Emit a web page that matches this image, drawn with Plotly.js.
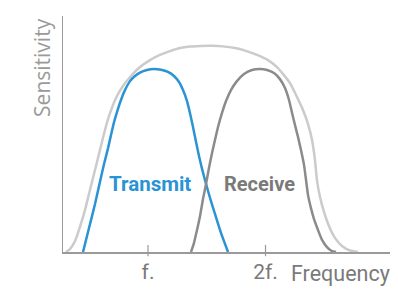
<!DOCTYPE html>
<html><head><meta charset="utf-8">
<script src="https://cdn.plot.ly/plotly-3.0.1.min.js"></script>
<style>html,body{margin:0;padding:0;background:#fff}#chart{width:398px;height:293px}</style>
</head><body><div id="chart"></div>
<script>
// Frequency in units of f, sensitivity relative to transmit peak
const tickVals = [1, 2];
const tickText = ["f.", "2f."];

const envX = [0.302,0.336,0.379,0.421,0.464,0.506,0.549,0.591,0.634,0.677,0.728,0.787,0.855,0.932,1.017,1.102,1.187,1.272,1.357,1.443,1.545,1.638,1.740,1.826,1.928,2.021,2.098,2.157,2.209,2.268,2.319,2.362,2.396,2.421,2.438,2.464,2.498,2.540,2.591,2.651,2.719,2.787];
const envY = [0,0.016,0.060,0.137,0.230,0.339,0.448,0.557,0.667,0.760,0.842,0.907,0.962,1.011,1.049,1.077,1.098,1.115,1.123,1.126,1.127,1.124,1.115,1.101,1.077,1.049,1.011,0.967,0.923,0.847,0.776,0.699,0.612,0.503,0.393,0.301,0.219,0.142,0.077,0.033,0.008,0];

const txX = [0.447,0.498,0.549,0.591,0.626,0.660,0.685,0.711,0.736,0.770,0.804,0.847,0.889,0.932,0.991,1.051,1.111,1.170,1.221,1.264,1.298,1.332,1.357,1.383,1.409,1.434,1.460,1.494,1.528,1.570,1.621,1.681];
const txY = [0,0.131,0.262,0.383,0.481,0.568,0.639,0.710,0.765,0.831,0.885,0.934,0.962,0.981,0.995,1.0,0.996,0.984,0.962,0.929,0.885,0.825,0.760,0.683,0.601,0.525,0.454,0.372,0.295,0.208,0.104,0];

const rxX = [1.366,1.391,1.417,1.443,1.468,1.494,1.519,1.545,1.570,1.596,1.630,1.664,1.706,1.757,1.817,1.885,1.953,2.013,2.072,2.123,2.166,2.200,2.226,2.251,2.277,2.302,2.328,2.345,2.362,2.387,2.413,2.447,2.481,2.523,2.566,2.600];
const rxY = [0,0.049,0.120,0.197,0.290,0.372,0.459,0.541,0.612,0.683,0.760,0.825,0.885,0.934,0.973,0.995,1.0,0.995,0.978,0.945,0.896,0.831,0.760,0.694,0.628,0.557,0.475,0.393,0.311,0.240,0.180,0.120,0.066,0.027,0.005,0];

const labels = ["Transmit", "Receive"];
const labelX = [1.021, 1.945];
const labelY = [0.374, 0.374];

const FONT = "Roboto, sans-serif";
const lineStyle = (c) => ({color: c, width: 2.5, shape: "spline", smoothing: 0.5});
const traces = [
  {x: envX, y: envY, mode: "lines", line: lineStyle("#cbcbcb"), hoverinfo: "skip"},
  {x: txX, y: txY, mode: "lines", line: lineStyle("#2a93d3"), hoverinfo: "skip"},
  {x: rxX, y: rxY, mode: "lines", line: lineStyle("#8b8b8d"), hoverinfo: "skip"}
];

const shapes = tickVals.map(v => ({type: "line", xref: "x", yref: "paper", x0: v, x1: v, y0: -0.018, y1: 0.03, line: {color: "#999", width: 1.2}}));

const annotations = [
  {text: labels[0], x: labelX[0], y: labelY[0], xref: "x", yref: "y", showarrow: false, xanchor: "center", yanchor: "middle", font: {family: FONT, size: 20.5, color: "#2a93d3", weight: "bold"}},
  {text: labels[1], x: labelX[1], y: labelY[1], xref: "x", yref: "y", showarrow: false, xanchor: "center", yanchor: "middle", font: {family: FONT, size: 20, color: "#7a7a7a", weight: "bold"}},
  {text: "Frequency", x: 1, y: -0.030, xref: "paper", yref: "paper", showarrow: false, xanchor: "right", yanchor: "top", xshift: 2, font: {family: FONT, size: 21.5, color: "#7a7a7a"}},
  {text: "Sensitivity", x: -0.066, y: 1.0, xref: "paper", yref: "paper", showarrow: false, textangle: -90, xanchor: "center", yanchor: "top", font: {family: "'Open Sans', sans-serif", size: 21, color: "#9a9a9a"}}
];

const layout = {
  width: 398, height: 293,
  margin: {l: 63, r: 8, t: 16, b: 41, pad: 0},
  paper_bgcolor: "#fff", plot_bgcolor: "#fff",
  showlegend: false,
  xaxis: {range: [0.2766, 3.0596], showgrid: false, zeroline: false, showline: true, linecolor: "#9a9a9a", linewidth: 1.5,
          tickmode: "array", tickvals: tickVals, ticktext: tickText, ticks: "", ticklabelstandoff: 0,
          tickfont: {family: FONT, size: 21, color: "#7a7a7a"}, fixedrange: true},
  yaxis: {range: [0, 1.29], showgrid: false, zeroline: false, showline: true, linecolor: "#9a9a9a", linewidth: 1.5,
          showticklabels: false, ticks: "", fixedrange: true},
  shapes: shapes,
  annotations: annotations
};
Plotly.newPlot("chart", traces, layout, {displayModeBar: false, staticPlot: true});
</script>
</body></html>
